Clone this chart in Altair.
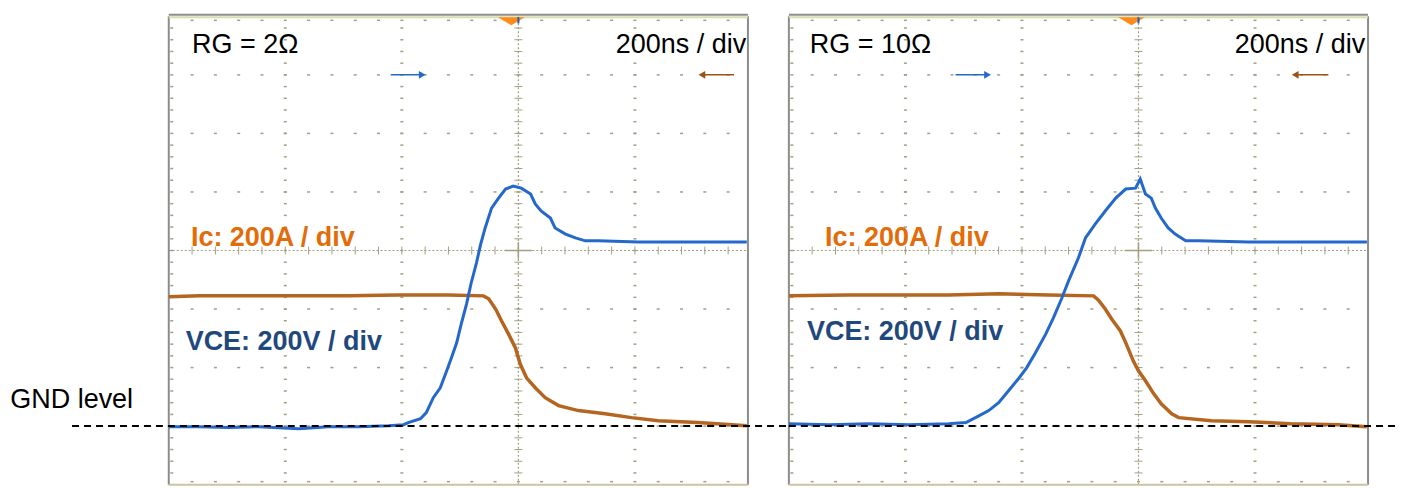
import altair as alt
import pandas as pd

# ---------------- data read from the two scope captures ----------------
# time in ns (200 ns/div, 0 = trigger at screen centre); VCE in V, Ic in A (200 per div, 0 = GND)
T_VCE_RG2 = [-600, -548, -497, -446, -377, -326, -274, -223, -197, -189,
             -168, -158, -146, -134, -123, -115, -106, -98, -89, -81,
             -72, -65, -57, -46, -34, -22, -9, 5, 21, 29,
             39, 55, 63, 81, 98, 115, 137, 206, 308, 392]
VCE_RG2 = [-2, -2, -5, -2, -9, -2, -2, 1, 5, 12,
           25, 46, 97, 131, 189, 233, 284, 349, 417, 489,
           557, 619, 677, 745, 779, 810, 820, 813, 793, 759,
           735, 711, 677, 656, 643, 633, 633, 629, 629, 629]
T_IC_RG2 = [-600, -548, -463, -377, -291, -206, -120, -60, -51, -39, -29, -17,
            -5, 3, 14, 29, 46, 69, 103, 149, 194, 240, 308, 392]
IC_RG2 = [442, 445, 445, 445, 445, 448, 448, 445, 435, 400, 360, 315,
          267, 213, 165, 131, 97, 70, 53, 42, 29, 18, 12, 1]

T_VCE_RG10 = [-600, -531, -463, -394, -326, -296, -274, -257, -240, -223,
              -206, -192, -177, -159, -146, -132, -120, -103, -91, -74,
              -57, -39, -22, -5, 3, 12, 22, 29, 39, 51,
              63, 81, 103, 189, 274, 392]
VCE_RG10 = [8, 5, 8, 5, 8, 12, 35, 53, 80, 121,
            162, 199, 250, 315, 370, 435, 496, 575, 643, 691,
            735, 779, 810, 813, 844, 793, 779, 745, 711, 677,
            656, 633, 633, 629, 629, 629]
T_IC_RG10 = [-600, -497, -411, -326, -240, -154, -77, -69, -57, -46, -31, -21,
             -9, 0, 12, 26, 39, 57, 69, 125, 189, 261, 343, 392]
IC_RG10 = [445, 448, 448, 448, 452, 448, 445, 431, 400, 366, 325, 281,
           223, 189, 155, 111, 76, 42, 29, 18, 15, 8, 5, -2]

PANEL_LABELS = ["RG = 2Ω", "RG = 10Ω"]
TIMEBASE_LABEL = "200ns / div"
IC_LABEL = "Ic: 200A / div"
VCE_LABEL = "VCE: 200V / div"
GND_LABEL = "GND level"

# screen geometry (scope divisions)
X_MIN, X_MAX = -600, 394
Y_MIN, Y_MAX = -200, 1400
X_MINOR = 40
Y_MINOR = 40
X_MAJOR_INNER = [-400, -200, 200]
Y_MAJOR_INNER = [0, 200, 400, 800, 1000, 1200]
X_CENTER, Y_CENTER = 0, 600

FONT = "Liberation Sans"
FS = 27
BLUE = "#2468cc"
BROWN = "#b4651f"
GRID = "#a39f80"
FRAME = "#8c8c8c"
IC_TEXT = "#e36c09"
VCE_TEXT = "#1f497d"

XS = alt.Scale(domain=[X_MIN, X_MAX], nice=False, zero=False)
YS = alt.Scale(domain=[Y_MIN, Y_MAX], nice=False, zero=False)


def X(f="x"):
    return alt.X(f"{f}:Q", scale=XS, axis=None)


def Y(f="y"):
    return alt.Y(f"{f}:Q", scale=YS, axis=None)


x_minor = [X_MIN + k * X_MINOR for k in range(1, 25)]
y_minor = [Y_MIN + k * Y_MINOR for k in range(1, 40)]

dots = pd.DataFrame(
    [{"x": x, "y": y} for y in Y_MAJOR_INNER for x in x_minor]
    + [{"x": x, "y": y} for x in X_MAJOR_INNER for y in y_minor]
)
left_edge = pd.DataFrame([{"x": X_MIN, "y": y} for y in y_minor])
top_edge = pd.DataFrame([{"x": x, "y": Y_MAX} for x in x_minor])
bot_edge = pd.DataFrame([{"x": x, "y": Y_MIN} for x in x_minor])
vc_ticks = pd.DataFrame([{"x": X_CENTER, "y": y} for y in y_minor])
hc_ticks = pd.DataFrame([{"x": x, "y": Y_CENTER} for x in x_minor])

DOT = "M-1,-0.5L1,-0.5L1,0.5L-1,0.5Z"


def dot_layer(df, **kw):
    return alt.Chart(df).mark_point(shape=DOT, filled=True, size=9, color=GRID,
                                    opacity=1, strokeWidth=0, **kw).encode(x=X(), y=Y())


LAYOUT = [
    dict(blue_arrow=(-219, -165), brown_arrow=(370, 315), title_x=-560, time_x=391,
         ic_x=-562, vce_x=-571, vce_y=261, gnd_from=-766, gnd_to=463, gnd_text=True),
    dict(blue_arrow=(-314, -259), brown_arrow=(326, 269), title_x=-564, time_x=389,
         ic_x=-538, vce_x=-569, vce_y=295, gnd_from=X_MIN, gnd_to=444, gnd_text=False),
]


def panel(t_v, v, t_i, i, label, lay):
    layers = []
    # grid dots
    layers.append(dot_layer(dots))
    layers.append(dot_layer(left_edge, xOffset=3))
    layers.append(dot_layer(top_edge, yOffset=4))
    layers.append(dot_layer(bot_edge, yOffset=-3))
    # centre lines
    vline = pd.DataFrame([{"x": X_CENTER, "y": Y_MIN, "y2": Y_MAX}])
    hline = pd.DataFrame([{"x": X_MIN, "x2": X_MAX, "y": Y_CENTER}])
    layers.append(alt.Chart(vline).mark_rule(color=GRID, strokeDash=[2, 2], strokeWidth=1.2)
                  .encode(x=X(), y=Y(), y2="y2:Q"))
    layers.append(alt.Chart(hline).mark_rule(color=GRID, strokeDash=[2, 2], strokeWidth=1.2)
                  .encode(x=X(), x2="x2:Q", y=Y()))
    layers.append(alt.Chart(vc_ticks).mark_point(shape="M-1,0L1,0", size=64, filled=False,
                                                 color=GRID, opacity=1, strokeWidth=1)
                  .encode(x=X(), y=Y()))
    layers.append(alt.Chart(hc_ticks).mark_point(shape="M0,-1L0,1", size=64, filled=False,
                                                 color=GRID, opacity=1, strokeWidth=1)
                  .encode(x=X(), y=Y()))
    cross = pd.DataFrame([{"x": X_CENTER, "y": Y_CENTER}])
    layers.append(alt.Chart(cross).mark_point(shape="M-1,0L1,0M0,-0.62L0,0.62", size=729,
                                              filled=False, color=GRID, opacity=1, strokeWidth=1.5)
                  .encode(x=X(), y=Y()))
    # frame
    sides = pd.DataFrame([{"x": X_MIN, "y": Y_MIN, "y2": Y_MAX}, {"x": X_MAX, "y": Y_MIN, "y2": Y_MAX}])
    layers.append(alt.Chart(sides).mark_rule(color=FRAME, strokeWidth=2).encode(x=X(), y=Y(), y2="y2:Q"))
    top = pd.DataFrame([{"x": X_MIN, "x2": X_MAX, "y": Y_MAX}])
    bot = pd.DataFrame([{"x": X_MIN, "x2": X_MAX, "y": Y_MIN}])
    layers.append(alt.Chart(top).mark_rule(color=FRAME, strokeWidth=2, yOffset=-1.5)
                  .encode(x=X(), x2="x2:Q", y=Y()))
    layers.append(alt.Chart(top).mark_rule(color="#d5deb0", strokeWidth=2, yOffset=1)
                  .encode(x=X(), x2="x2:Q", y=Y()))
    layers.append(alt.Chart(bot).mark_rule(color="#cbc3a3", strokeWidth=2)
                  .encode(x=X(), x2="x2:Q", y=Y()))
    # channel arrows
    arr = pd.DataFrame([
        {"x": lay["blue_arrow"][0], "x2": lay["blue_arrow"][1], "y": 1200, "c": BLUE},
        {"x": lay["brown_arrow"][0], "x2": lay["brown_arrow"][1], "y": 1200, "c": "#9c5215"},
    ])
    layers.append(alt.Chart(arr).mark_rule(strokeWidth=1.5)
                  .encode(x=X(), x2="x2:Q", y=Y(), color=alt.Color("c:N", scale=None)))
    layers.append(alt.Chart(arr.iloc[[0]]).mark_point(shape="triangle-right", size=60, filled=True,
                                                      opacity=1, color=BLUE)
                  .encode(x=X("x2"), y=Y()))
    layers.append(alt.Chart(arr.iloc[[1]]).mark_point(shape="triangle-left", size=60, filled=True,
                                                      opacity=1, color="#9c5215")
                  .encode(x=X("x2"), y=Y()))
    # trigger marker
    trig = pd.DataFrame([{"x": -12, "y": 1383}])
    layers.append(alt.Chart(trig).mark_point(shape="M-1,-0.3L1,-0.3L0,0.3Z", size=729, filled=True,
                                             opacity=1, color="#ff8c1a", strokeWidth=0)
                  .encode(x=X(), y=Y()))
    mark = pd.DataFrame([{"x": 0, "y": 1376, "y2": 1397}])
    layers.append(alt.Chart(mark).mark_rule(color="#1f5fbf", strokeWidth=2)
                  .encode(x=X(), y=Y(), y2="y2:Q"))
    # traces
    ic = pd.DataFrame({"x": t_i, "y": i})
    vce = pd.DataFrame({"x": t_v, "y": v})
    layers.append(alt.Chart(ic).mark_line(color=BROWN, strokeWidth=3.5).encode(x=X(), y=Y()))
    layers.append(alt.Chart(vce).mark_line(color=BLUE, strokeWidth=3).encode(x=X(), y=Y()))
    # texts
    t_left = pd.DataFrame([{"x": lay["title_x"], "y": 1274, "text": label}])
    t_right = pd.DataFrame([{"x": lay["time_x"], "y": 1274, "text": TIMEBASE_LABEL}])
    t_ic = pd.DataFrame([{"x": lay["ic_x"], "y": 615, "text": IC_LABEL}])
    t_vce = pd.DataFrame([{"x": lay["vce_x"], "y": lay["vce_y"], "text": VCE_LABEL}])
    layers.append(alt.Chart(t_left).mark_text(align="left", baseline="alphabetic", font=FONT,
                                              fontSize=FS, color="black")
                  .encode(x=X(), y=Y(), text="text:N"))
    layers.append(alt.Chart(t_right).mark_text(align="right", baseline="alphabetic", font=FONT,
                                               fontSize=FS, color="black")
                  .encode(x=X(), y=Y(), text="text:N"))
    layers.append(alt.Chart(t_ic).mark_text(align="left", baseline="alphabetic", font=FONT,
                                            fontSize=FS, fontWeight="bold", color=IC_TEXT)
                  .encode(x=X(), y=Y(), text="text:N"))
    layers.append(alt.Chart(t_vce).mark_text(align="left", baseline="alphabetic", font=FONT,
                                             fontSize=FS, fontWeight="bold", color=VCE_TEXT)
                  .encode(x=X(), y=Y(), text="text:N"))
    if lay["gnd_text"]:
        g = pd.DataFrame([{"x": -872, "y": 63, "text": GND_LABEL}])
        layers.append(alt.Chart(g).mark_text(align="left", baseline="alphabetic", font=FONT,
                                             fontSize=FS, color="black")
                      .encode(x=X(), y=Y(), text="text:N"))
    # GND dashed level line (on top)
    gnd = pd.DataFrame([{"x": lay["gnd_from"], "x2": lay["gnd_to"], "y": 0}])
    layers.append(alt.Chart(gnd).mark_rule(color="black", strokeWidth=2, strokeDash=[7, 5])
                  .encode(x=X(), x2="x2:Q", y=Y()))
    return alt.layer(*layers).properties(width=580, height=469)


left = panel(T_VCE_RG2, VCE_RG2, T_IC_RG2, IC_RG2, PANEL_LABELS[0], LAYOUT[0])
right = panel(T_VCE_RG10, VCE_RG10, T_IC_RG10, IC_RG10, PANEL_LABELS[1], LAYOUT[1])

chart = (
    alt.hconcat(left, right, spacing=41, bounds="flush")
    .properties(padding={"left": 2, "top": 5, "right": 0, "bottom": 0})
    .configure_view(strokeWidth=0)
)

chart.save("out.html", embed_options={"renderer": "svg", "actions": False})
